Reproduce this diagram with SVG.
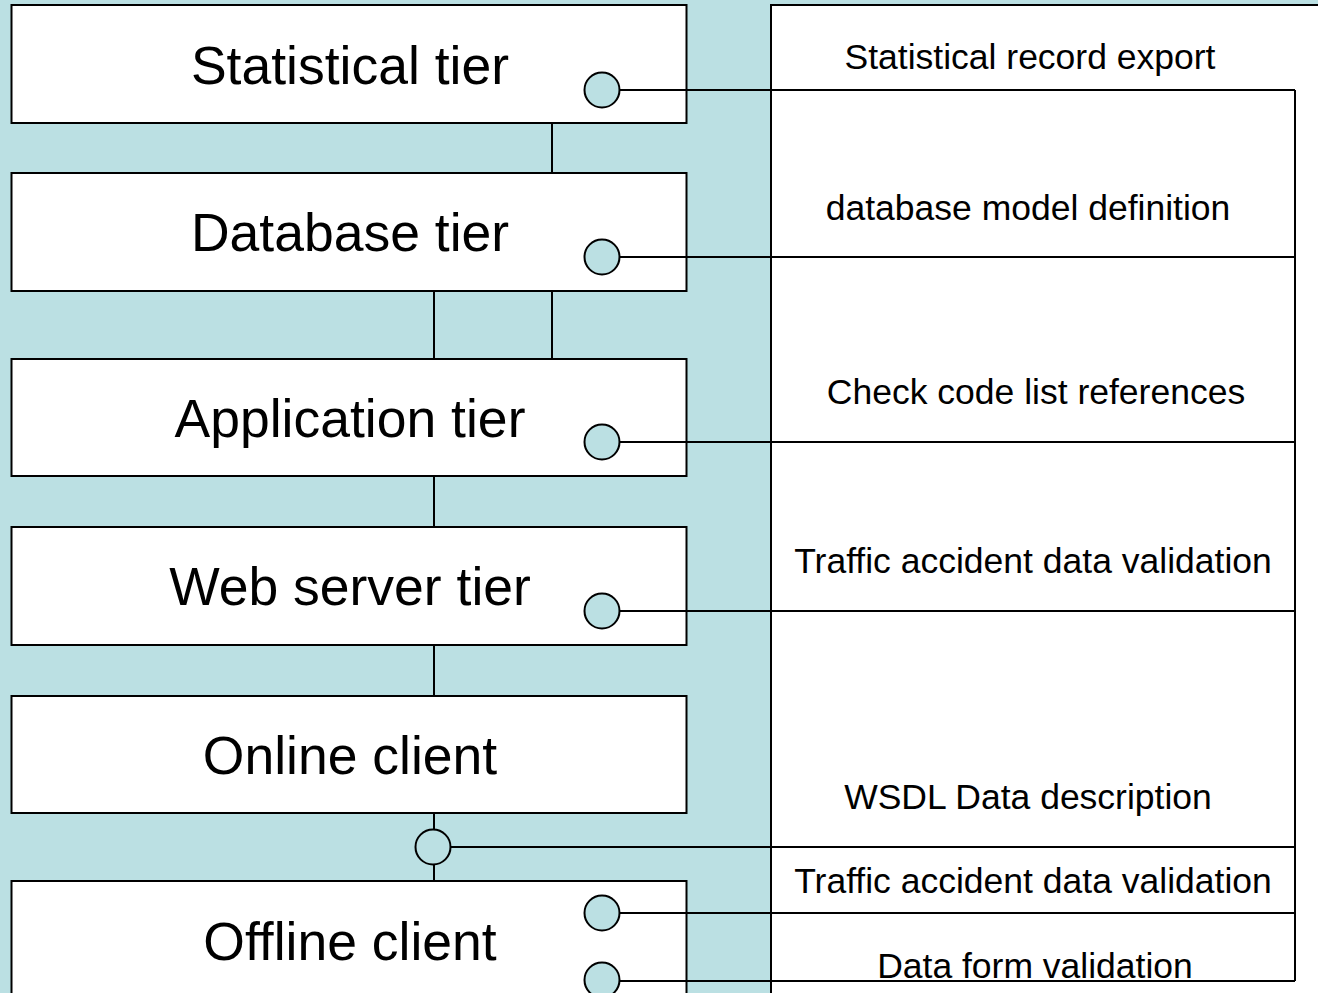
<svg xmlns="http://www.w3.org/2000/svg" width="1318" height="993" viewBox="0 0 1318 993">
<style>
.bg{fill:#BBE0E3}
.box{fill:#FFFFFF;stroke:#000000;stroke-width:2}
.ln{fill:none;stroke:#000000;stroke-width:2}
.port{fill:#BBE0E3;stroke:#000000;stroke-width:2}
.title{font-family:"Liberation Sans",Arial,sans-serif;font-size:53.5px;fill:#000000;text-anchor:middle}
.lbl{font-family:"Liberation Sans",Arial,sans-serif;font-size:35.5px;fill:#000000;text-anchor:middle}
</style>
<rect class="bg" x="0" y="0" width="1318" height="993"/>
<g id="panel">
<rect class="box" x="771" y="5" width="600" height="1000"/>
<line class="ln" x1="1295" y1="90" x2="1295" y2="981"/>
</g>
<g id="statistical-tier">
<rect class="box" x="11.5" y="5" width="675" height="118"/>
<text class="title" x="350" y="84">Statistical tier</text>
</g>
<g id="database-tier">
<rect class="box" x="11.5" y="173" width="675" height="118"/>
<text class="title" x="350" y="251">Database tier</text>
</g>
<g id="application-tier">
<rect class="box" x="11.5" y="359" width="675" height="117"/>
<text class="title" x="350" y="437">Application tier</text>
</g>
<g id="web-server-tier">
<rect class="box" x="11.5" y="527" width="675" height="118"/>
<text class="title" x="350" y="605">Web server tier</text>
</g>
<g id="online-client">
<rect class="box" x="11.5" y="696" width="675" height="117"/>
<text class="title" x="350" y="774">Online client</text>
</g>
<g id="offline-client">
<rect class="box" x="11.5" y="881" width="675" height="150"/>
<text class="title" x="350" y="960">Offline client</text>
</g>
<g id="connectors">
<line class="ln" x1="552" y1="123" x2="552" y2="173"/>
<line class="ln" x1="434" y1="291" x2="434" y2="359"/>
<line class="ln" x1="552" y1="291" x2="552" y2="359"/>
<line class="ln" x1="434" y1="476" x2="434" y2="527"/>
<line class="ln" x1="434" y1="645" x2="434" y2="696"/>
<line class="ln" x1="434" y1="813" x2="434" y2="881"/>
<line class="ln" x1="620" y1="90" x2="1295" y2="90"/>
<line class="ln" x1="620" y1="257" x2="1295" y2="257"/>
<line class="ln" x1="620" y1="442" x2="1295" y2="442"/>
<line class="ln" x1="620" y1="611" x2="1295" y2="611"/>
<line class="ln" x1="451" y1="847" x2="1295" y2="847"/>
<line class="ln" x1="620" y1="913" x2="1295" y2="913"/>
<line class="ln" x1="620" y1="981" x2="1295" y2="981"/>
</g>
<g id="ports">
<circle class="port" cx="602" cy="90" r="17.5"/>
<circle class="port" cx="602" cy="257" r="17.5"/>
<circle class="port" cx="602" cy="442" r="17.5"/>
<circle class="port" cx="602" cy="611" r="17.5"/>
<circle class="port" cx="433" cy="847" r="17.5"/>
<circle class="port" cx="602" cy="913" r="17.5"/>
<circle class="port" cx="602" cy="980" r="17.5"/>
</g>
<g id="labels">
<text class="lbl" x="1030" y="69">Statistical record export</text>
<text class="lbl" x="1028" y="220">database model definition</text>
<text class="lbl" x="1036" y="404">Check code list references</text>
<text class="lbl" x="1033" y="573">Traffic accident data validation</text>
<text class="lbl" x="1028" y="809">WSDL Data description</text>
<text class="lbl" x="1033" y="893">Traffic accident data validation</text>
<text class="lbl" x="1035" y="978">Data form validation</text>
</g>
</svg>
